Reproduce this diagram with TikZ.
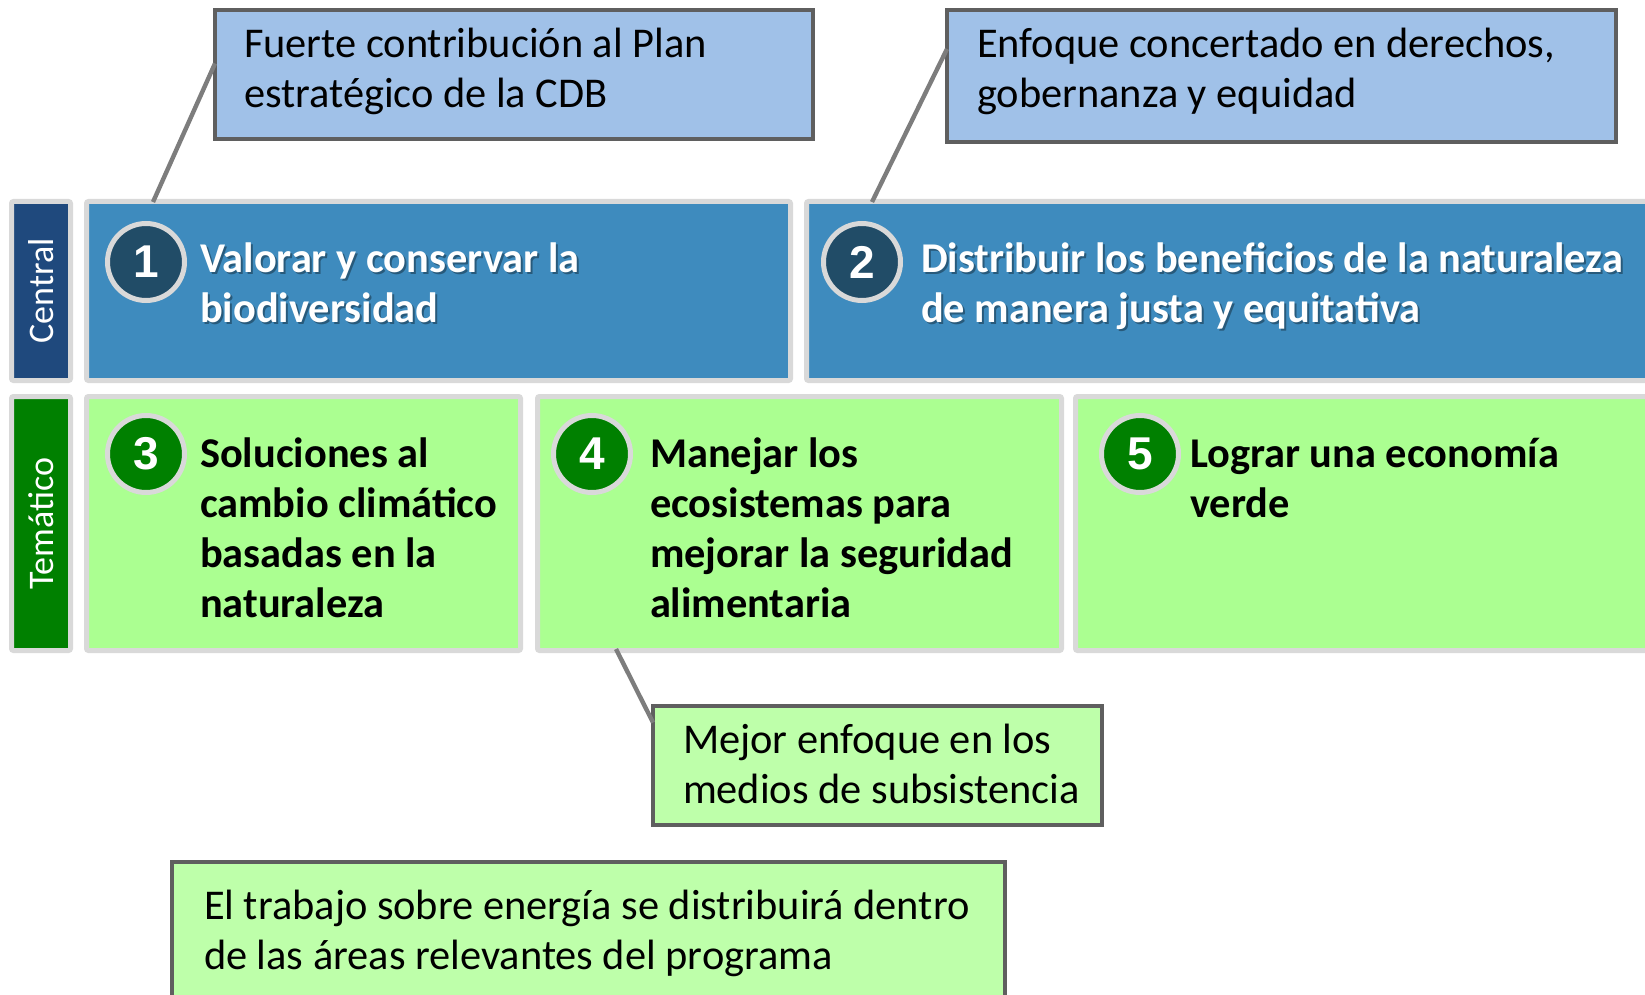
\documentclass[tikz,border=0pt]{standalone}
\usepackage{fontspec}
\setmainfont{Carlito}
\newfontfamily\numfont{Liberation Sans}
\usetikzlibrary{fit}

\definecolor{cenblue}{RGB}{31,73,125}
\definecolor{boxblue}{RGB}{62,139,190}
\definecolor{numblue}{RGB}{33,76,103}
\definecolor{temgreen}{RGB}{0,128,0}
\definecolor{boxgreen}{RGB}{171,255,145}
\definecolor{noteblue}{RGB}{160,193,232}
\definecolor{notegreen}{RGB}{190,255,170}
\definecolor{rimgray}{RGB}{217,217,217}
\definecolor{notegray}{RGB}{95,95,95}
\definecolor{pingray}{RGB}{125,125,125}

\begin{document}
\begin{tikzpicture}[x=0.5pt, y=-0.5pt,
    every node/.style={inner sep=0pt, outer sep=0pt},
    rowbox/.style={draw=rimgray, line width=2.5pt, rounded corners=1pt},
    notebox/.style={draw=notegray, line width=2pt},
    numdisc/.style={circle, draw=rimgray, line width=2.5pt, minimum size=38.5pt,
      text=white, font=\numfont\bfseries\fontsize{23}{27}\selectfont},
    plaintxt/.style={anchor=base west, align=left, font=\fontsize{21.2}{25}\selectfont},
    boldtxt/.style={anchor=base west, align=left, font=\bfseries\fontsize{21.2}{25}\selectfont},
    sidetxt/.style={rotate=90, text=white, font=\fontsize{18}{22}\selectfont},
    pin/.style={draw=pingray, line width=2.2pt}]

  \useasboundingbox (0,0) rectangle (1645,995);

  % row frames
  \node[rowbox, fill=cenblue, fit={(11.5,201.5) (70.5,380.5)}] (labC) {};
  \node[rowbox, fill=boxblue, fit={(86.5,201.5) (790.5,380.5)}] (box1) {};
  \node[rowbox, fill=boxblue, fit={(806.5,201.5) (1660,380.5)}] (box2) {};
  \node[rowbox, fill=temgreen, fit={(11.5,396.5) (70.5,650.5)}] (labT) {};
  \node[rowbox, fill=boxgreen, fit={(86.5,396.5) (520.5,650.5)}] (box3) {};
  \node[rowbox, fill=boxgreen, fit={(537.5,396.5) (1061.5,650.5)}] (box4) {};
  \node[rowbox, fill=boxgreen, fit={(1075.5,396.5) (1660,650.5)}] (box5) {};

  \node[sidetxt] (labCtxt) at (labC.center) {Central};
  \node[sidetxt] (labTtxt) at (labT.center) {Temático};

  % numbered discs
  \node[numdisc, fill=numblue] (n1) at (146,262) {1};
  \node[numdisc, fill=numblue] (n2) at (862,262) {2};
  \node[numdisc, fill=temgreen] (n3) at (146,454) {3};
  \node[numdisc, fill=temgreen] (n4) at (592,454) {4};
  \node[numdisc, fill=temgreen] (n5) at (1140,454) {5};

  % central areas, white with a soft shadow (placed by the last baseline)
  \node[boldtxt, text=black, opacity=0.35] (t1s) at (202,324) {Valorar y conservar la\\biodiversidad};
  \node[boldtxt, text=white] (t1) at (200,322) {Valorar y conservar la\\biodiversidad};
  \node[boldtxt, text=black, opacity=0.35] (t2s) at (923,324) {Distribuir los beneficios de la naturaleza\\de manera justa y equitativa};
  \node[boldtxt, text=white] (t2) at (921,322) {Distribuir los beneficios de la naturaleza\\de manera justa y equitativa};

  % thematic areas
  \node[boldtxt] (t3) at (200,617) {Soluciones al\\cambio climático\\basadas en la\\naturaleza};
  \node[boldtxt] (t4) at (650,617) {Manejar los\\ecosistemas para\\mejorar la seguridad\\alimentaria};
  \node[boldtxt] (t5) at (1190,517) {Lograr una economía\\verde};

  % callouts
  \node[notebox, fill=noteblue, fit={(215,10) (813,139)}] (calA) {};
  \node[plaintxt] (calAtxt) at (244,108) {Fuerte contribución al Plan\\estratégico de la CDB};
  \node[notebox, fill=noteblue, fit={(947,10) (1616,142)}] (calB) {};
  \node[plaintxt] (calBtxt) at (977,108) {Enfoque concertado en derechos,\\gobernanza y equidad};
  \node[notebox, fill=notegreen, fit={(653,706) (1102,825)}] (calC) {};
  \node[plaintxt] (calCtxt) at (683,803) {Mejor enfoque en los\\medios de subsistencia};
  \node[notebox, fill=notegreen, fit={(172,862) (1005,1012)}] (calD) {};
  \node[plaintxt] (calDtxt) at (204,969) {El trabajo sobre energía se distribuirá dentro\\de las áreas relevantes del programa};

  % pointer lines
  \coordinate (pinA) at (153,202);
  \coordinate (pinB) at (872,202);
  \coordinate (pinC) at (616,649);
  \draw[pin] (pinA) -- ([shift={(0,-11)}]calA.west);
  \draw[pin] (pinB) -- ([shift={(0,-27)}]calB.west);
  \draw[pin] (pinC) -- ([shift={(0,-43)}]calC.west);

\end{tikzpicture}
\end{document}
